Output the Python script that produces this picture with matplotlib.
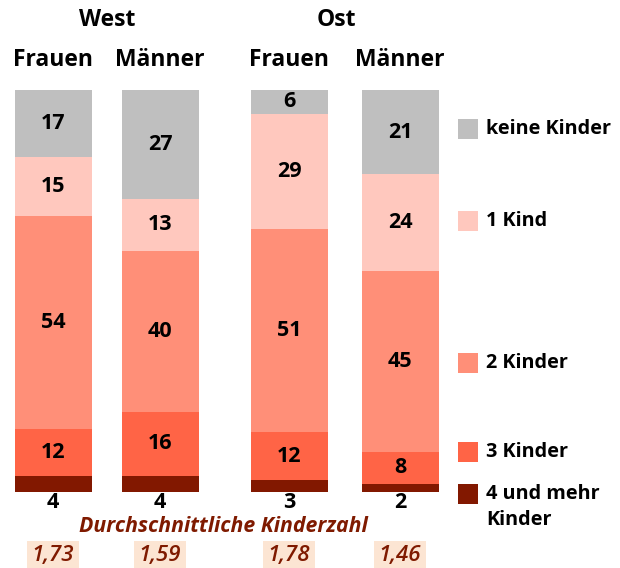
import matplotlib.pyplot as plt
import numpy as np
from matplotlib.patches import Rectangle

plt.rcParams['font.family'] = ['Open Sans', 'DejaVu Sans']

# data
gruppen = ["Frauen", "Männer", "Frauen", "Männer"]
regionen = ["West", "Ost"]
kategorien = ["4 und mehr\nKinder", "3 Kinder", "2 Kinder", "1 Kind", "keine Kinder"]
farben = ["#821800", "#FF6446", "#FF8F78", "#FFC8BE", "#BFBFBF"]
werte = np.array([
    [4, 12, 54, 15, 17],   # West Frauen
    [4, 16, 40, 13, 27],   # West Männer
    [3, 12, 51, 29, 6],    # Ost Frauen
    [2, 8, 45, 24, 21],    # Ost Männer
])
durchschnitt = ["1,73", "1,59", "1,78", "1,46"]

# layout (pixels)
W, H = 620, 568
bar_x = [53, 160, 289, 400]
bar_w = 77
top_px, bottom_px = 90, 492

fig = plt.figure(figsize=(W / 100, H / 100), dpi=100)
ax = fig.add_axes([0, (H - bottom_px) / H, 1, (bottom_px - top_px) / H])
ax.set_xlim(0, W)
ax.set_ylim(0, 100)
ax.axis('off')

anteile = werte / werte.sum(axis=1, keepdims=True) * 100
unten = np.zeros(len(bar_x))
for k in range(len(kategorien)):
    ax.bar(bar_x, anteile[:, k], bottom=unten, width=bar_w, color=farben[k], linewidth=0)
    for i in range(len(bar_x)):
        if k == 0:
            continue
        ax.text(bar_x[i], unten[i] + anteile[i, k] / 2, str(werte[i, k]),
                ha='center', va='center', fontsize=15.5, fontweight='bold', color='black')
    unten += anteile[:, k]

# overlay in pixel coordinates for texts outside the bars
ov = fig.add_axes([0, 0, 1, 1], zorder=-1)
ov.set_xlim(0, W)
ov.set_ylim(H, 0)
ov.axis('off')

for i, x in enumerate(bar_x):
    ov.text(x, 502, str(werte[i, 0]), ha='center', va='center', fontsize=15.5, fontweight='bold')
    ov.text(x, 60, gruppen[i], ha='center', va='center', fontsize=16.5, fontweight='bold')
    ov.text(x, 556, durchschnitt[i], ha='center', va='center', fontsize=16, style='italic',
            fontweight='semibold', color='#7F1A00',
            bbox=dict(boxstyle='square,pad=0.2', fc='#FCE5D3', ec='none'))

ov.text(107, 20, regionen[0], ha='center', va='center', fontsize=16.5, fontweight='bold')
ov.text(336, 20, regionen[1], ha='center', va='center', fontsize=16.5, fontweight='bold')
ov.text(223, 527, "Durchschnittliche Kinderzahl", ha='center', va='center', fontsize=15.3,
        fontweight='bold', style='italic', color='#7F1A00')

# legend
leg_y = [494, 452, 363, 221, 129]
for k in range(len(kategorien)):
    ov.add_patch(Rectangle((458, leg_y[k] - 10), 20, 20, color=farben[k], lw=0))
    if k == 0:
        ov.text(486, leg_y[k] - 10, kategorien[k], ha='left', va='top', fontsize=14.3,
                fontweight='bold', linespacing=1.4)
    else:
        ov.text(486, leg_y[k], kategorien[k], ha='left', va='center', fontsize=14.3,
                fontweight='bold')

fig.savefig("out.png", dpi=100)
